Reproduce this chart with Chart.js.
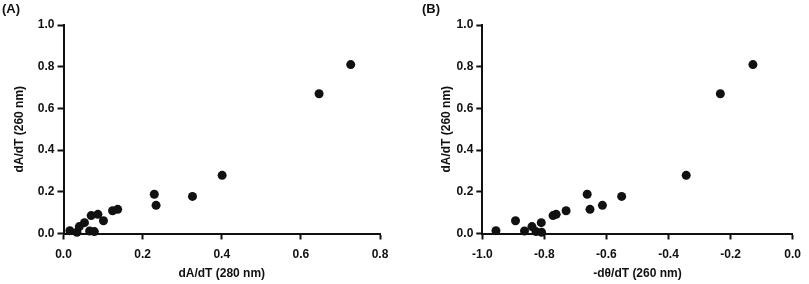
<!DOCTYPE html>
<html>
<head>
<meta charset="utf-8">
<script src="https://cdn.jsdelivr.net/npm/chart.js@4.4.1/dist/chart.umd.min.js"></script>
<style>
  html, body { margin: 0; padding: 0; background: #fff; }
  #wrap { position: relative; width: 809px; height: 284px; overflow: hidden; }
  #cA { position: absolute; left: 0; top: 0; }
  #cB { position: absolute; left: 400px; top: 0; }
</style>
</head>
<body>
<div id="wrap">
  <canvas id="cA" width="400" height="284"></canvas>
  <canvas id="cB" width="409" height="284"></canvas>
</div>
<script>
// ---- Data ----
const yValues = [0.81, 0.67, 0.279, 0.188, 0.178, 0.135, 0.116, 0.109, 0.092, 0.086, 0.061, 0.052, 0.033, 0.0135, 0.012, 0.009, 0.006];
const xValuesA = [0.726, 0.646, 0.401, 0.2295, 0.326, 0.234, 0.137, 0.124, 0.087, 0.070, 0.101, 0.053, 0.040, 0.016, 0.066, 0.078, 0.034];
const xValuesB = [-0.128, -0.233, -0.343, -0.662, -0.551, -0.613, -0.653, -0.730, -0.762, -0.772, -0.893, -0.810, -0.840, -0.956, -0.864, -0.827, -0.809];

const yTicks = [0.0, 0.2, 0.4, 0.6, 0.8, 1.0];
const xTicksA = [0.0, 0.2, 0.4, 0.6, 0.8];
const xTicksB = [-1.0, -0.8, -0.6, -0.4, -0.2, 0.0];

const panelLabelA = '(A)';
const panelLabelB = '(B)';
const xTitleA = 'dA/dT (280 nm)';
const xTitleB = '-d\u03B8/dT (260 nm)';
const yTitle = 'dA/dT (260 nm)';

// ---- Styling ----
const FONT = '"Liberation Sans", Arial, Helvetica, sans-serif';
const INK = '#111';

function panelLabelPlugin(text, x, y) {
  return {
    id: 'panelLabel',
    afterDraw(chart) {
      const ctx = chart.ctx;
      ctx.save();
      ctx.font = 'bold 13px ' + FONT;
      ctx.fillStyle = INK;
      ctx.textAlign = 'left';
      ctx.textBaseline = 'top';
      ctx.fillText(text, x, y);
      ctx.restore();
    }
  };
}

function makeChart(canvasId, xs, xTicks, xTitle, label, opts) {
  const pts = xs.map((x, i) => ({ x: x, y: yValues[i] }));
  return new Chart(document.getElementById(canvasId), {
    type: 'scatter',
    data: {
      datasets: [{
        data: pts,
        backgroundColor: INK,
        borderWidth: 0,
        pointRadius: 4.5,
        pointHoverRadius: 4.5,
        clip: false
      }]
    },
    options: {
      responsive: false,
      maintainAspectRatio: false,
      animation: false,
      events: [],
      layout: { padding: { left: 0, right: opts.rightPad, top: 25, bottom: 0 } },
      plugins: { legend: { display: false }, tooltip: { enabled: false }, title: { display: false } },
      scales: {
        x: {
          type: 'linear',
          min: xTicks[0],
          max: xTicks[xTicks.length - 1],
          afterBuildTicks(scale) { scale.ticks = xTicks.map(v => ({ value: v })); },
          afterFit(scale) { scale.height = 50.5; },
          ticks: {
            callback: v => v.toFixed(1),
            font: { family: FONT, size: 12, weight: 'bold' },
            color: INK,
            padding: 8,
            maxRotation: 0,
            autoSkip: false
          },
          grid: { drawOnChartArea: false, drawTicks: true, tickLength: 6, tickWidth: 2, color: INK },
          border: { display: true, color: INK, width: 2 },
          title: {
            display: true,
            text: xTitle,
            font: { family: FONT, size: 12, weight: 'bold' },
            color: INK,
            padding: { top: 4, bottom: 3 }
          }
        },
        y: {
          type: 'linear',
          min: 0,
          max: 1,
          afterBuildTicks(scale) { scale.ticks = yTicks.map(v => ({ value: v })); },
          afterFit(scale) { scale.width = opts.yWidth; },
          ticks: {
            callback: v => v.toFixed(1),
            font: { family: FONT, size: 12, weight: 'bold' },
            color: INK,
            padding: 3,
            autoSkip: false
          },
          grid: { drawOnChartArea: false, drawTicks: true, tickLength: 6, tickWidth: 2, color: INK },
          border: { display: true, color: INK, width: 2 },
          title: {
            display: true,
            text: yTitle,
            font: { family: FONT, size: 12, weight: 'bold' },
            color: INK,
            padding: { top: opts.yTitlePad, bottom: 0 }
          }
        }
      }
    },
    plugins: [panelLabelPlugin(label, opts.labelX, 3)]
  });
}

makeChart('cA', xValuesA, xTicksA, xTitleA, panelLabelA, { rightPad: 20, yWidth: 63.5, yTitlePad: 12, labelX: 2 });
makeChart('cB', xValuesB, xTicksB, xTitleB, panelLabelB, { rightPad: 10, yWidth: 82.3, yTitlePad: 39.5, labelX: 22 });
</script>
</body>
</html>
